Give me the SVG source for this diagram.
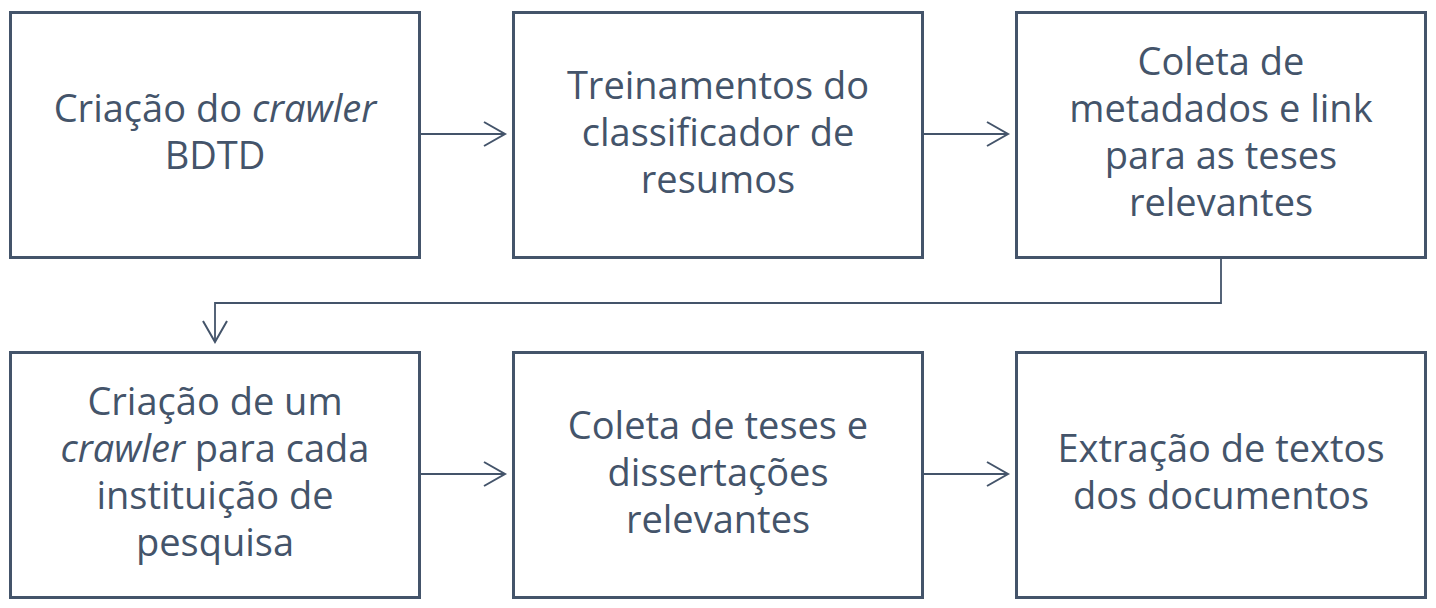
<svg xmlns="http://www.w3.org/2000/svg" width="1436" height="608" viewBox="0 0 1436 608">
<style>
.box{fill:#ffffff;stroke:#44546A;stroke-width:3}
.lbl{font-family:"Open Sans","Liberation Sans",sans-serif;font-size:38px;fill:#44546A;text-anchor:middle}
.conn{fill:none;stroke:#44546A;stroke-width:1.8}
</style>
<defs>
<marker id="arr" markerUnits="userSpaceOnUse" markerWidth="26" markerHeight="28" refX="23" refY="14" orient="auto">
<path d="M2,2 L23,14 L2,26" fill="none" stroke="#44546A" stroke-width="2"/>
</marker>
</defs>
<rect width="1436" height="608" fill="#ffffff"/>
<g id="n1">
<rect class="box" x="10.5" y="12.5" width="409" height="245"/>
<text class="lbl" x="215"><tspan x="215" y="122">Criação do <tspan font-style="italic">crawler</tspan></tspan><tspan x="215" y="169">BDTD</tspan></text>
</g>
<g id="n2">
<rect class="box" x="513.5" y="12.5" width="409" height="245"/>
<text class="lbl"><tspan x="718" y="98.5">Treinamentos do</tspan><tspan x="718" y="145.5">classificador de</tspan><tspan x="718" y="192.5">resumos</tspan></text>
</g>
<g id="n3">
<rect class="box" x="1016.5" y="12.5" width="409" height="245"/>
<text class="lbl"><tspan x="1221" y="75">Coleta de</tspan><tspan x="1221" y="122">metadados e link</tspan><tspan x="1221" y="169">para as teses</tspan><tspan x="1221" y="216">relevantes</tspan></text>
</g>
<g id="n4">
<rect class="box" x="10.5" y="352.5" width="409" height="245"/>
<text class="lbl"><tspan x="215" y="414.5">Criação de um</tspan><tspan x="215" y="461.5"><tspan font-style="italic">crawler</tspan> para cada</tspan><tspan x="215" y="508.5">instituição de</tspan><tspan x="215" y="555.5">pesquisa</tspan></text>
</g>
<g id="n5">
<rect class="box" x="513.5" y="352.5" width="409" height="245"/>
<text class="lbl"><tspan x="718" y="438.5">Coleta de teses e</tspan><tspan x="718" y="485.5">dissertações</tspan><tspan x="718" y="532.5">relevantes</tspan></text>
</g>
<g id="n6">
<rect class="box" x="1016.5" y="352.5" width="409" height="245"/>
<text class="lbl"><tspan x="1221" y="462">Extração de textos</tspan><tspan x="1221" y="509">dos documentos</tspan></text>
</g>
<g id="connectors">
<path class="conn" d="M420,134 L505,134" marker-end="url(#arr)"/>
<path class="conn" d="M923,134 L1008,134" marker-end="url(#arr)"/>
<path class="conn" d="M1221,258 L1221,303 L215,303 L215,342" marker-end="url(#arr)"/>
<path class="conn" d="M420,474 L505,474" marker-end="url(#arr)"/>
<path class="conn" d="M923,474 L1008,474" marker-end="url(#arr)"/>
</g>
</svg>
